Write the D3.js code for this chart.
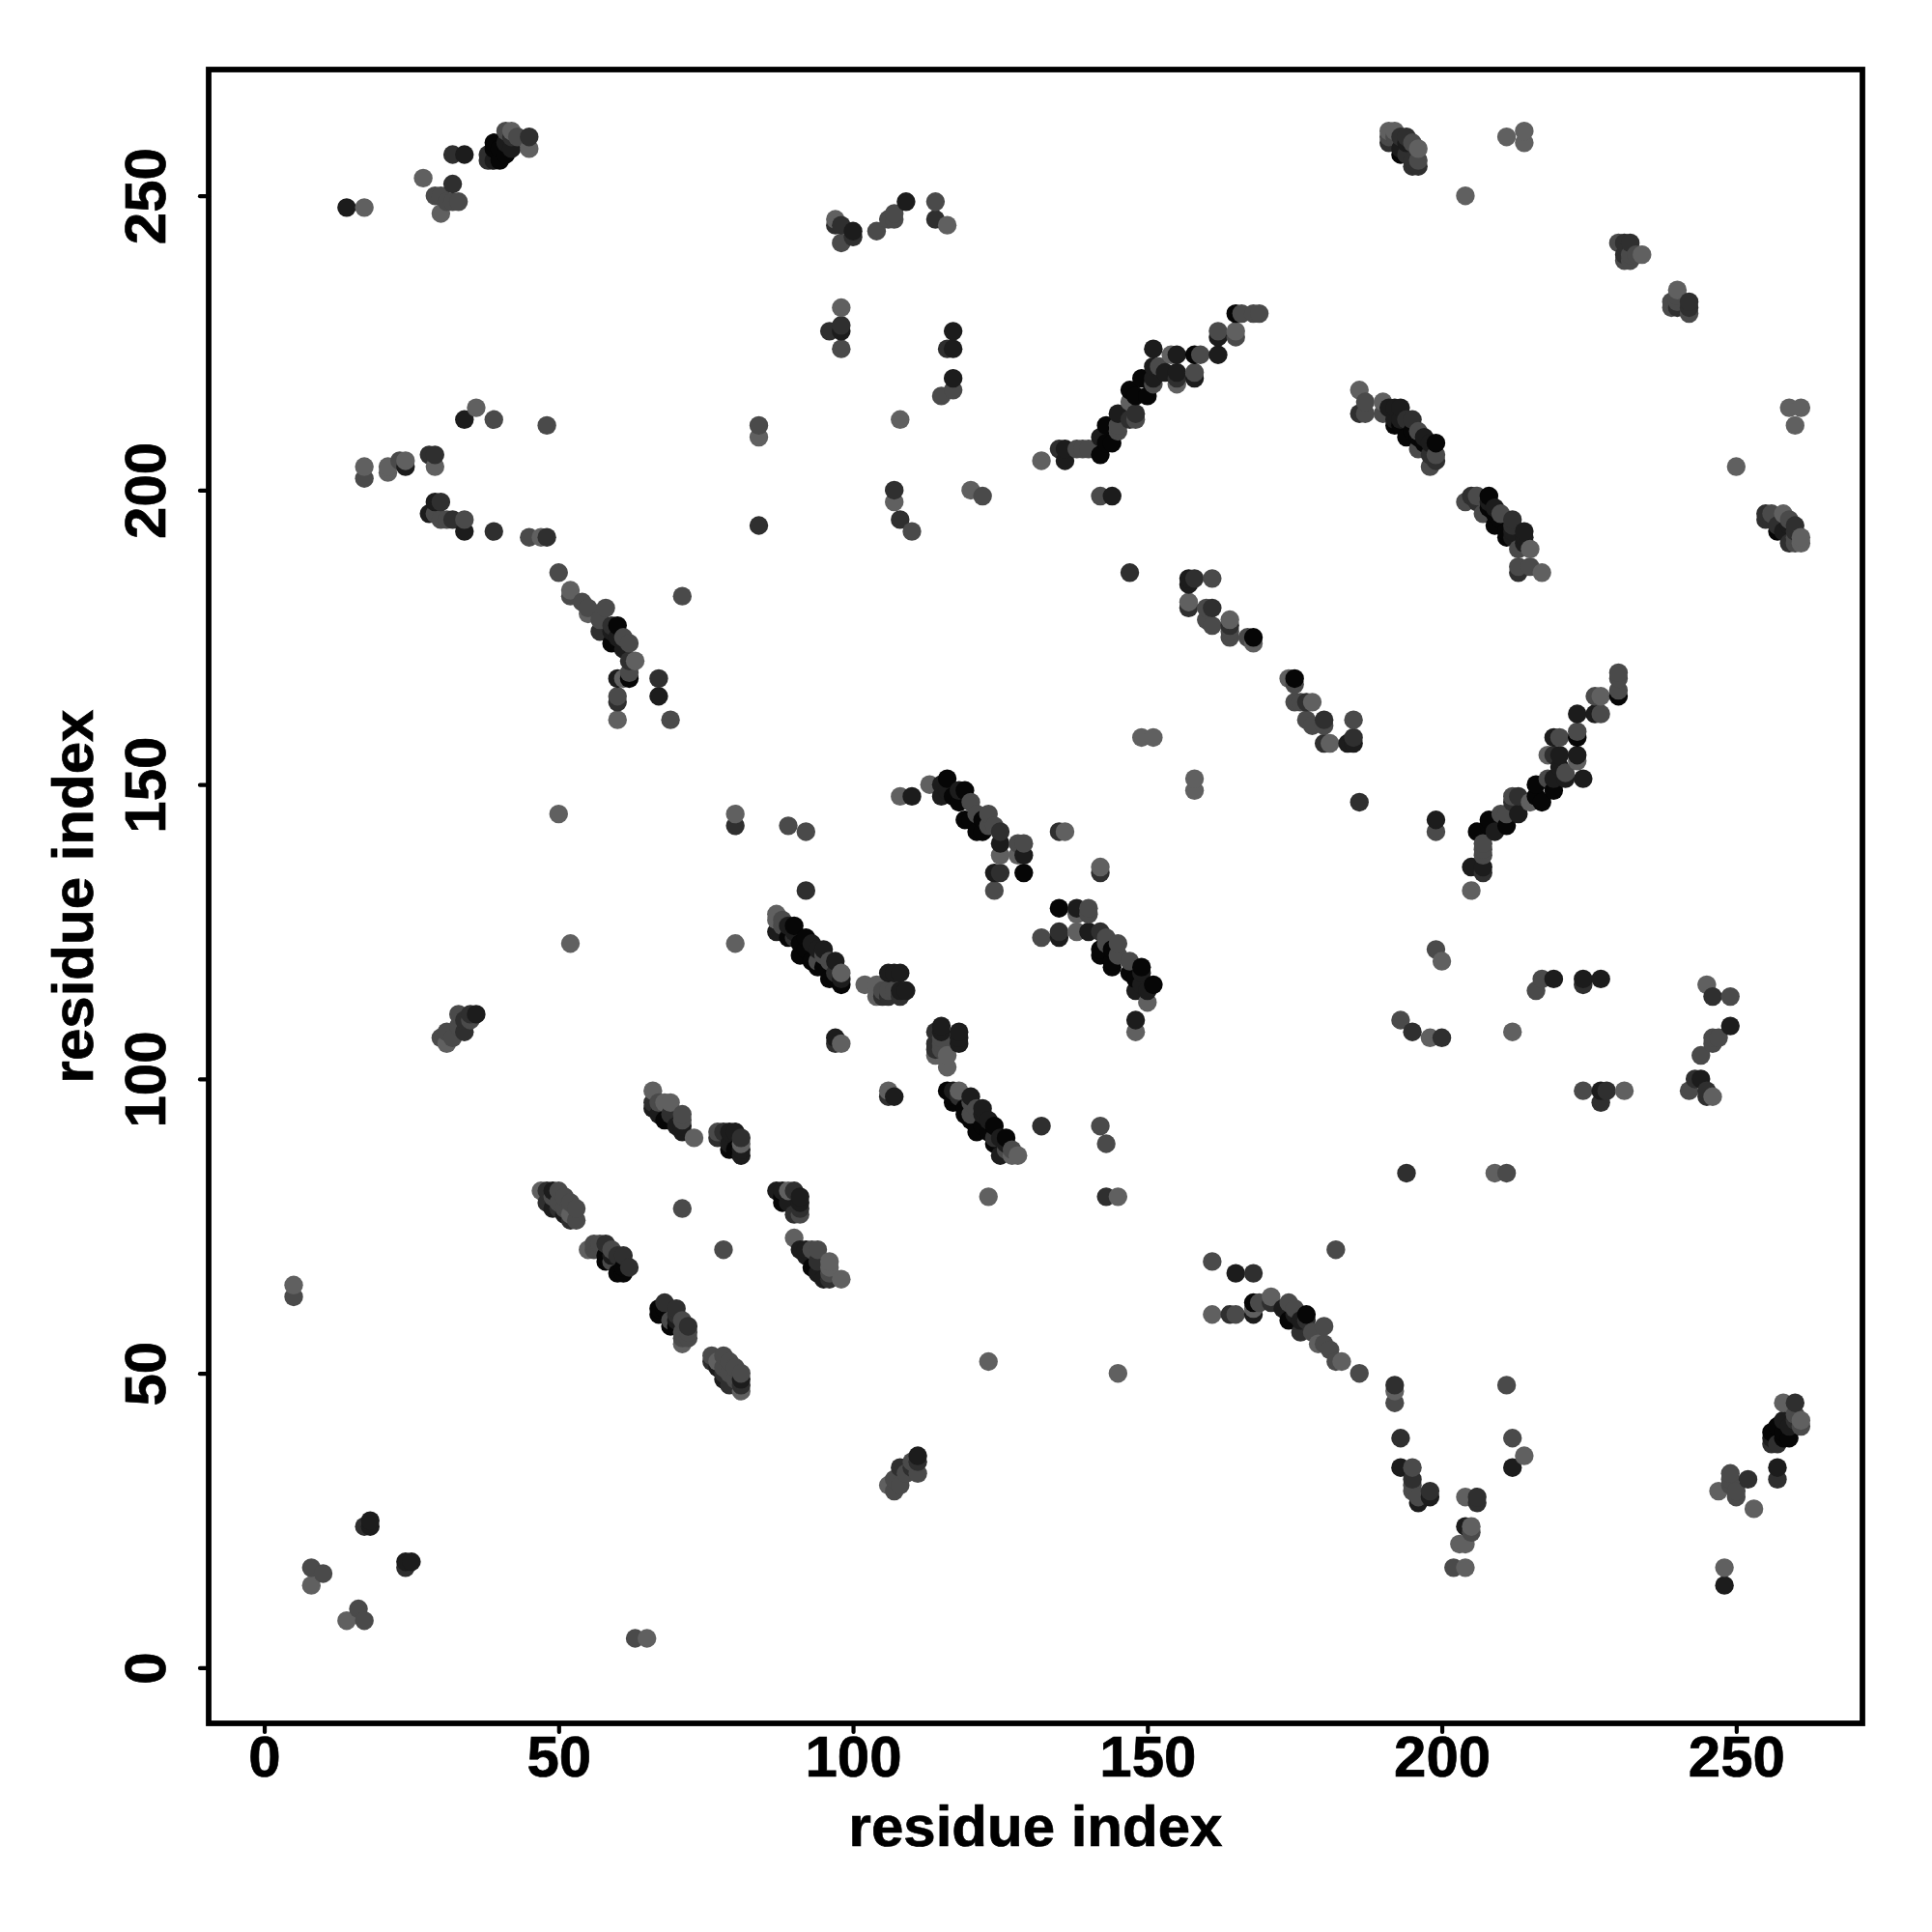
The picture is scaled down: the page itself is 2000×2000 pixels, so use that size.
<!DOCTYPE html>
<html>
<head>
<meta charset="utf-8">
<style>html,body{margin:0;padding:0;background:#fff}svg{display:block}</style>
<script src="https://d3js.org/d3.v7.min.js"></script>
</head>
<body>
<div id="chart"></div>
<script>
// Contacts listed as [residue i, residue j, shade tier] with i < j; the map is symmetric.
const terminalContacts = [[5,63,3],[5,65,4],[8,14,4],[8,17,3],[10,16,3],[17,24,2],[18,24,1],[18,25,1],
[14,248,1],[17,248,4],[27,253,4],[29,250,3],[30,250,3],[30,247,4],[31,249,3],[32,249,3],[33,249,3],[32,252,2],[32,257,2],[34,257,1],
[38,256,2],[38,257,2],[39,256,1],[39,258,0],[39,259,0],[40,256,0],[40,258,0],[41,257,0],[41,259,1],[41,261,3],[42,258,1],[42,260,2],[42,261,4],[43,260,3],[45,258,4],[45,260,2]];
const farContacts = [[36,214,4],[34,212,1],[39,212,3],[48,211,3],[17,204,4],[17,202,3],[21,204,4],[21,203,4],[23,205,3],[24,205,4],[24,204,1],[28,206,2],[29,206,2],[29,204,4],
[29,198,1],[30,198,2],[28,196,1],[29,196,3],[30,195,3],[31,195,3],[32,195,2],[34,195,3],[34,193,1],[39,193,2],[45,192,3],[47,192,4],[48,192,2],[50,186,3]];
const sheetA = [[52,183,4],[52,182,3],[54,181,3],[55,180,3],[55,179,4],[58,180,3],[57,178,3],[57,176,2],[59,177,2],[60,177,0],[59,174,0],[59,176,1],[60,175,1],[61,175,3],[61,173,1],[62,174,3],[62,171,2],[63,171,4],[62,169,3],[62,168,0],[60,168,1],[61,168,4],[60,165,3],[60,164,2],[60,161,4],[67,168,2],[67,165,1],[69,161,3],[71,182,3]];
const clusterB = [[30,107,3],[31,106,4],[31,108,3],[32,107,3],[33,109,3],[33,111,3],[34,108,2],[34,110,2],[35,110,3],[35,111,2],[36,111,1],
[50,145,4],[52,123,4],[71,78,3],[80,123,4],[80,145,4],[80,143,2],[89,143,3],[92,142,3],[92,132,2],
[84,211,3],[84,209,4],[84,194,2],[97,107,1],[97,106,2],[98,106,4]];
const helixC = [[47,81,4],[48,81,2],[48,79,2],[49,81,1],[49,80,3],[50,81,3],[49,78,1],[50,79,3],[50,78,2],[51,80,3],[51,78,3],[51,77,1],[52,79,3],[52,77,4],[52,76,2],[53,78,3],[53,76,3],
[55,71,4],[56,72,3],[56,71,3],[57,71,3],[57,72,3],[58,72,2],[58,70,0],[58,69,0],[59,71,3],[59,70,1],[59,69,3],[60,70,2],[60,67,0],[61,70,2],[61,68,0],[61,67,0],[62,68,2]];
const helixD = [[66,98,4],[66,96,2],[66,95,1],[67,96,3],[67,94,1],[68,96,4],[68,93,0],[69,96,4],[69,94,2],[70,92,1],[71,94,3],[71,93,3],[71,92,1],[71,91,1],[73,90,4],
[77,91,3],[77,90,2],[78,91,2],[79,91,1],[79,89,1],[79,88,0],[80,91,1],[80,88,0],[81,90,2],[81,89,4],[81,88,1],[81,87,1]];
const helixE = [[87,128,4],[87,127,4],[87,125,1],[88,127,3],[88,126,3],[89,126,1],[89,124,0],[90,126,0],[90,125,1],[90,124,2],[91,123,0],[91,121,0],[92,124,0],[92,122,0],[93,123,1],[93,120,0],[94,122,1],[94,120,3],[94,119,0],[95,122,1],[95,121,3],[95,119,0],[96,117,0],[96,120,3],[97,120,1],[97,118,2],[97,117,0],[98,118,4],[98,116,0],[98,117,1],
[102,116,4],[104,116,4],[104,114,4],[105,115,3],[105,114,2],[106,118,1],[106,115,3],[106,114,2],[107,118,1],[107,115,3],[108,118,1],[108,115,1],[108,114,2],[109,115,1]];
const sheetF = [[108,148,4],[110,148,1],[113,150,4],[116,151,0],[115,150,1],[115,148,1],[116,149,1],[117,148,0],[118,149,1],[118,147,0],[119,149,0],[119,144,0],[120,147,3],[120,144,0],[121,145,3],[121,142,0],[122,144,0],[122,142,0],[123,145,3],[123,143,3],[124,143,3],[125,142,2],[125,140,1],[125,138,4],[128,140,3],[129,140,3],[129,138,1],[128,138,4],[125,135,2],[124,135,1],[129,135,0],[124,132,3],
[135,142,2],[136,142,4],[149,158,4],[151,158,4],[147,186,2]];
const sheetG = [[97,246,4],[98,245,2],[97,245,2],[100,244,1],[98,242,3],[100,243,2],[104,244,3],[106,246,3],[107,246,3],[107,247,3],[109,249,1],[114,249,3],[114,246,2],[116,245,4],
[98,231,4],[98,228,2],[98,227,1],[96,227,2],[98,224,3],[117,227,1],[116,224,2],[117,224,1],[117,219,1],[117,217,3],[115,216,3],[108,212,4],
[107,200,2],[107,198,4],[108,195,2],[110,193,3],[120,200,4],[122,199,3],[142,199,3],[144,199,1]];
const helixH = [[132,205,4],[135,207,2],[136,207,1],[136,205,1],[138,207,3],[139,207,3],[140,207,3],[142,206,0],[142,209,1],[143,208,0],[143,211,0],[144,208,0],[145,210,3],[145,213,1],[145,211,3],[147,212,2],[148,213,2],[148,212,3],[147,217,0],[147,215,4],[148,216,0],[149,219,0],[150,216,0],[151,218,3],[151,219,1],[151,221,1],[151,224,1],[152,221,3],[153,220,1],[154,223,4],[155,223,1],[155,220,1],[155,219,2],[155,218,4],[158,223,0],[159,223,3],[158,220,3],[158,219,1],[162,223,1],[162,227,3],[162,226,1],[165,227,4],[165,226,3],[165,230,0],[166,230,3],[168,230,3],[169,230,3]];
const hairpinI = [[157,185,1],[158,185,2],[157,184,1],[161,185,3],[157,181,4],[157,180,2],[160,180,3],[161,180,2],[160,178,3],[161,177,3],[164,178,4],[164,177,2],[164,176,3],[164,175,3],[167,175,3],[168,175,0],[168,174,4]];
const hairpinJ = [[186,217,4],[187,215,3],[186,213,2],[187,213,3],[190,215,4],[190,213,3],[191,214,1],[192,214,1],[193,214,1],[192,211,0],[192,212,1],[193,212,1],[193,211,0],[194,209,0],[194,212,2],[195,212,2],[195,210,0],[196,210,3],[196,209,0],[196,207,3],[197,209,1],[197,208,0],[198,208,1],[199,208,0],[199,206,3],[199,205,2],[198,206,2],[198,204,3]];
const tailK = [[191,261,4],[191,260,3],[191,259,2],[192,261,4],[192,260,3],[193,260,2],[193,258,1],[193,257,0],[194,260,2],[194,259,1],[194,257,2],[195,259,3],[195,256,2],[195,255,2],[196,258,4],[196,256,3],[196,255,2],
[211,260,4],[214,261,4],[214,259,4],[204,250,4],[230,242,3],[231,242,2],[232,242,2],[231,240,2],[231,239,3],[232,240,3],[232,239,3],[233,240,3],[234,240,4],
[98,228,2],[115,216,3]];

const xTicks = [0,50,100,150,200,250];
const yTicks = [0,50,100,150,200,250];
const xTitle = "residue index";
const yTitle = "residue index";
const shadeTiers = ["#060606","#1c1c1c","#2f2f2f","#4a4a4a","#606060"];

const W = 2000, H = 2000;
const frame = {l:216, t:72, r:1928, b:1784};
const domain = [-9.44, 271.44];
const x = d3.scaleLinear().domain(domain).range([frame.l, frame.r]);
const y = d3.scaleLinear().domain(domain).range([frame.b, frame.t]);
const shade = d3.scaleOrdinal().domain([0,1,2,3,4]).range(shadeTiers);

const half = [].concat(terminalContacts, farContacts, sheetA, clusterB, helixC, helixD, helixE, sheetF, sheetG, helixH, hairpinI, hairpinJ, tailK);
const seen = new Map();
half.forEach(([i,j,s]) => { seen.set(i+"_"+j,{x:i,y:j,s}); seen.set(j+"_"+i,{x:j,y:i,s}); });
const points = Array.from(seen.values()).sort((a,b)=>d3.ascending(a.x,b.x)||d3.ascending(a.y,b.y));

const svg = d3.select("#chart").append("svg").attr("width",W).attr("height",H).attr("viewBox",`0 0 ${W} ${H}`);
svg.append("rect").attr("width",W).attr("height",H).attr("fill","#fff");

svg.append("g").selectAll("circle").data(points).join("circle")
  .attr("cx",d=>x(d.x)).attr("cy",d=>y(d.y)).attr("r",9.7).attr("fill",d=>shade(d.s));

svg.append("rect").attr("x",frame.l).attr("y",frame.t).attr("width",frame.r-frame.l).attr("height",frame.b-frame.t)
  .attr("fill","none").attr("stroke","#000").attr("stroke-width",5.8);

const font = "'Liberation Sans', Arial, sans-serif";
const gx = svg.append("g").attr("transform",`translate(0,${frame.b})`)
  .call(d3.axisBottom(x).tickValues(xTicks).tickSize(9).tickFormat(d3.format("d")));
const gy = svg.append("g").attr("transform",`translate(${frame.l},0)`)
  .call(d3.axisLeft(y).tickValues(yTicks).tickSize(9).tickFormat(d3.format("d")));
[gx,gy].forEach(g=>{
  g.select(".domain").remove();
  g.selectAll("line").attr("stroke","#000").attr("stroke-width",4.2).attr("stroke-linecap","round");
  g.selectAll("text").attr("font-family",font).attr("font-weight","bold").attr("font-size",60)
    .attr("fill","#000").attr("stroke","#000").attr("stroke-width",0.7);
});
gx.selectAll("text").attr("y",55).attr("dy",0).attr("text-anchor","middle");
gy.selectAll("text").attr("x",0).attr("dy",0).attr("text-anchor","middle")
  .attr("transform","translate(-45.5,0) rotate(-90)").attr("y",0);

svg.append("text").text(xTitle).attr("x",(frame.l+frame.r)/2).attr("y",1911)
  .attr("text-anchor","middle").attr("font-family",font).attr("font-weight","bold").attr("font-size",60)
  .attr("stroke","#000").attr("stroke-width",0.7);
svg.append("text").text(yTitle).attr("transform",`translate(96,${(frame.t+frame.b)/2}) rotate(-90)`)
  .attr("text-anchor","middle").attr("font-family",font).attr("font-weight","bold").attr("font-size",60)
  .attr("stroke","#000").attr("stroke-width",0.7);
</script>
</body>
</html>
